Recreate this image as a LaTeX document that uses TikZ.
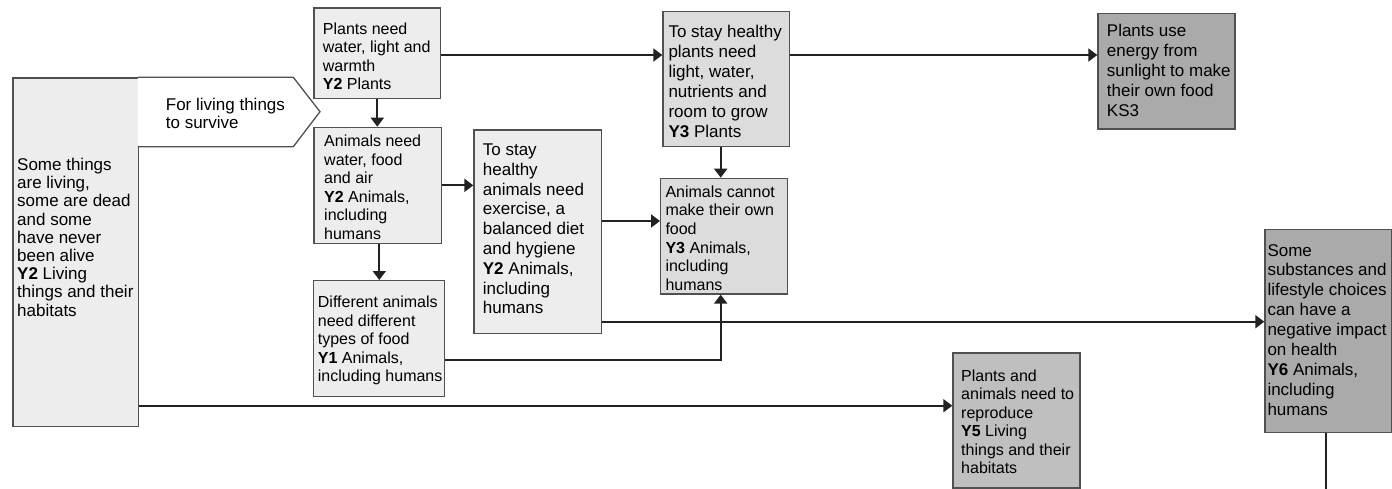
\documentclass[tikz,border=0pt]{standalone}
\usepackage{fontspec}
\setmainfont{Liberation Sans}
\usetikzlibrary{arrows.meta}
\definecolor{fa}{HTML}{EDEDED}
\definecolor{fb}{HTML}{DCDCDC}
\definecolor{fc}{HTML}{BFBFBF}
\definecolor{fd}{HTML}{AAAAAA}
\definecolor{bord}{HTML}{505050}
\definecolor{ln}{HTML}{222222}
\tikzset{
  box/.style={draw=bord, line width=1.3pt, rectangle, inner sep=0pt, anchor=north west},
  txt/.style={align=left, inner sep=0pt, anchor=north west, text=black},
  fbig/.style={font=\fontsize{17}{19.8}\selectfont},
  fsmall/.style={font=\fontsize{16}{18.5}\selectfont},
  arr/.style={draw=ln, line width=2pt, -{Triangle[length=9pt,width=13pt]}},
  plain/.style={draw=ln, line width=2pt},
}
\begin{document}
\begin{tikzpicture}[x=1pt,y=-1pt]
\useasboundingbox (0,0) rectangle (1392,488);
% boxes
\node[box, fill=fa, minimum width=125.5pt, minimum height=348.4pt] (L) at (12.3,77.3) {};
\node[box, fill=fa, minimum width=126.7pt, minimum height=90.4pt] (P2) at (313.3,7.3) {};
\node[box, fill=fa, minimum width=127.4pt, minimum height=116pt] (A2) at (313.3,126.7) {};
\node[box, fill=fa, minimum width=127.7pt, minimum height=203.4pt] (H2) at (473.3,129.3) {};
\node[box, fill=fa, minimum width=131.3pt, minimum height=115.7pt] (D) at (312.7,280) {};
\node[box, fill=fb, minimum width=126.7pt, minimum height=135pt] (T3) at (662.3,10.7) {};
\node[box, fill=fb, minimum width=126.7pt, minimum height=115.6pt] (AC) at (660,177.7) {};
\node[box, fill=fd, minimum width=137pt, minimum height=115.6pt] (KS3) at (1097.3,12.7) {};
\node[box, fill=fd, minimum width=126.4pt, minimum height=203pt] (Y6) at (1264.3,228.7) {};
\node[box, fill=fc, minimum width=127pt, minimum height=135pt] (Y5) at (952.3,352.3) {};
% pentagon
\draw[draw=bord, line width=1.3pt, fill=white] (137.8,77.3) -- (293.3,77.3) -- (320,111.7) -- (293.3,146.7) -- (137.8,146.7);
% texts
\node[txt, font=\fontsize{17}{18.2}\selectfont] (Lt) at (17,158) {Some things\\are living,\\some are dead\\and some\\have never\\been alive\\\textbf{Y2} Living\\things and their\\habitats};
\node[txt, font=\fontsize{17}{18.3}\selectfont] (Ft) at (165.7,98) {For living things\\to survive};
\node[txt, fsmall] (P2t) at (322.7,22.7) {Plants need\\water, light and\\warmth\\\textbf{Y2} Plants};
\node[txt, fsmall] (A2t) at (324,135) {Animals need\\water, food\\and air\\\textbf{Y2} Animals,\\including\\humans};
\node[txt, fsmall] (Dt) at (317.7,296) {Different animals\\need different\\types of food\\\textbf{Y1} Animals,\\including humans};
\node[txt, fbig] (H2t) at (482.7,143.5) {To stay\\healthy\\animals need\\exercise, a\\balanced diet\\and hygiene\\\textbf{Y2} Animals,\\including\\humans};
\node[txt, font=\fontsize{17}{20}\selectfont] (T3t) at (668.3,25) {To stay healthy\\plants need\\light, water,\\nutrients and\\room to grow\\\textbf{Y3} Plants};
\node[txt, fsmall] (ACt) at (665.3,185.7) {Animals cannot\\make their own\\food\\\textbf{Y3} Animals,\\including\\humans};
\node[txt, font=\fontsize{17}{20}\selectfont] (KS3t) at (1106.7,24) {Plants use\\energy from\\sunlight to make\\their own food\\KS3};
\node[txt, font=\fontsize{17}{19.9}\selectfont] (Y6t) at (1267.3,244) {Some\\substances and\\lifestyle choices\\can have a\\negative impact\\on health\\\textbf{Y6} Animals,\\including\\humans};
\node[txt, fsmall] (Y5t) at (961,369.3) {Plants and\\animals need to\\reproduce\\\textbf{Y5} Living\\things and their\\habitats};
% helper coordinates
\coordinate (y55) at (0,55);
\coordinate (y221) at (0,221);
\coordinate (y360) at (0,360);
\coordinate (y322) at (0,321.7);
\coordinate (y406) at (0,405.7);
\coordinate (x720) at (720.7,0);
\coordinate (x379) at (379.3,0);
\coordinate (x1326) at (1325.7,0);
\coordinate (bot) at (1325.7,489);
% connectors
\draw[arr] (P2.east |- y55) -- (T3.west |- y55);
\draw[arr] (T3.east |- y55) -- (KS3.west |- y55);
\draw[arr] (P2.south) -- (A2.north -| P2.south);
\draw[arr] (A2.east) -- (H2.west |- A2.east);
\draw[arr] (A2.south -| x379) -- (D.north -| x379);
\draw[arr] (T3.south -| x720) -- (AC.north -| x720);
\draw[arr] (H2.east |- y221) -- (AC.west |- y221);
\draw[arr] (D.east |- y360) -| (AC.south -| x720);
\draw[arr] (H2.east |- y322) -- (Y6.west |- y322);
\draw[arr] (L.east |- y406) -- (Y5.west |- y406);
\draw[plain] (Y6.south -| x1326) -- (bot);
\end{tikzpicture}
\end{document}
